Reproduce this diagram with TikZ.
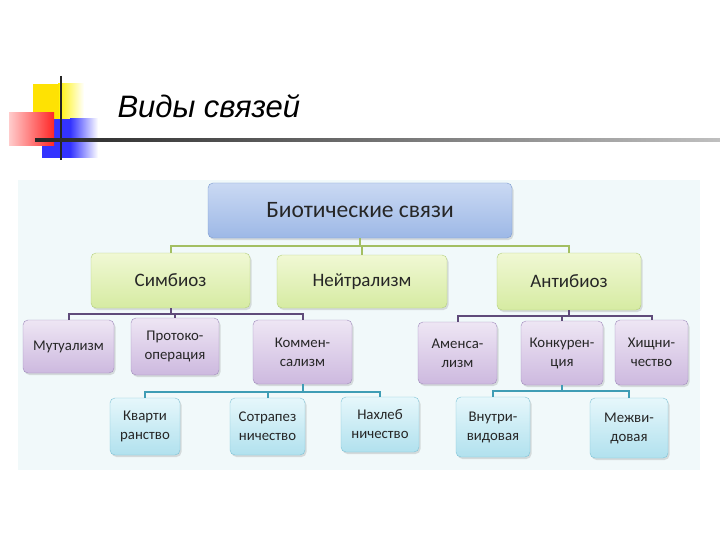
\documentclass[tikz,border=0pt]{standalone}
\usepackage{fontspec}
\setmainfont{Carlito}
\newfontfamily\titlefont{Liberation Sans}
\usetikzlibrary{shadows,calc}
\definecolor{bgc}{HTML}{F1F9FA}
\definecolor{blueT}{HTML}{CAD9F3}
\definecolor{blueB}{HTML}{9DB8E6}
\definecolor{blueD}{HTML}{7C9BD0}
\definecolor{grnT}{HTML}{F0F8D4}
\definecolor{grnB}{HTML}{D6EBA2}
\definecolor{grnD}{HTML}{B3CE7C}
\definecolor{purT}{HTML}{EEE6F4}
\definecolor{purB}{HTML}{CDB9DF}
\definecolor{purD}{HTML}{A08BBC}
\definecolor{cyaT}{HTML}{E6F7FB}
\definecolor{cyaB}{HTML}{B1E1EE}
\definecolor{cyaD}{HTML}{7EC3D6}
\definecolor{lnG}{HTML}{A3BF62}
\definecolor{lnP}{HTML}{5F4B7A}
\definecolor{lnC}{HTML}{3F9DB5}
\tikzset{
  bx/.style={rounded corners=5pt, align=center, inner sep=0pt, text=black!85,
    drop shadow={shadow xshift=1.5pt, shadow yshift=-2pt, opacity=0.25}},
  bluebox/.style={bx, draw=blueD, top color=blueT, bottom color=blueB, font=\fontsize{23.5}{26}\selectfont},
  grnbox/.style={bx, draw=grnD, top color=grnT, bottom color=grnB, font=\fontsize{19}{21}\selectfont},
  purbox/.style={bx, draw=purD, top color=purT, bottom color=purB, font=\fontsize{14.8}{19}\selectfont},
  cyabox/.style={bx, draw=cyaD, top color=cyaT, bottom color=cyaB, font=\fontsize{14.8}{19}\selectfont},
  gline/.style={draw=lnG, line width=2pt},
  pline/.style={draw=lnP, line width=2pt},
  cline/.style={draw=lnC, line width=2pt},
}
\begin{document}
\begin{tikzpicture}[x=1pt,y=-1pt]
\useasboundingbox (0,0) rectangle (720,540);
\fill[white] (0,0) rectangle (720,540);
% title decoration
\shade[left color=yellow!90!orange, right color=white] (58,84) rectangle (84,126);
\fill[yellow!85!orange] (33,84) rectangle (59,126);
\shade[left color=blue!80, right color=white] (70,119) rectangle (98,158);
\fill[blue!80] (42,119) rectangle (71,158);
\shade[left color=red!20, right color=red!85] (9,113) rectangle (54,146);
\draw[line width=2pt, black!85] (61,76) -- (61,160);
\shade[left color=black!85, right color=black!25] (35,138.8) rectangle (720,141.2);
\node[anchor=west, font=\titlefont\itshape\fontsize{31}{33}\selectfont] (title) at (114,106) {Виды связей};
% background panel
\fill[bgc] (18,180) rectangle (700,470);
% nodes
\node[bluebox, minimum width=304pt, minimum height=55pt] (top) at (360,210.5) {Биотические связи};
\node[grnbox, minimum width=159pt, minimum height=55pt] (sym) at (170.5,280.5) {Симбиоз};
\node[grnbox, minimum width=170pt, minimum height=53pt] (neu) at (362,281.5) {Нейтрализм};
\node[grnbox, minimum width=144pt, minimum height=57pt] (ant) at (569,281.5) {Антибиоз};
\node[purbox, minimum width=91pt, minimum height=53pt] (mut) at (68.5,346.5) {Мутуализм};
\node[purbox, minimum width=88pt, minimum height=57pt] (pro) at (175,346.5) {Протоко-\\операция};
\node[purbox, minimum width=99pt, minimum height=64pt] (kom) at (302.5,352) {Коммен-\\сализм};
\node[purbox, minimum width=79pt, minimum height=62pt] (ame) at (457.5,353) {Аменса-\\лизм};
\node[purbox, minimum width=82pt, minimum height=64pt] (kon) at (562,353) {Конкурен-\\ция};
\node[purbox, minimum width=73pt, minimum height=65pt] (hish) at (651.5,352.5) {Хищни-\\чество};
\node[cyabox, minimum width=70pt, minimum height=57pt] (kva) at (145,426.5) {Кварти\\ранство};
\node[cyabox, minimum width=75pt, minimum height=57pt] (sot) at (267.5,426.5) {Сотрапез\\ничество};
\node[cyabox, minimum width=78pt, minimum height=55pt] (nah) at (380,424.5) {Нахлеб\\ничество};
\node[cyabox, minimum width=74pt, minimum height=60pt] (vnu) at (493,427) {Внутри-\\видовая};
\node[cyabox, minimum width=78pt, minimum height=60pt] (mej) at (629,428) {Межви-\\довая};
% bus coordinates
\coordinate (b1) at (0,246);
\coordinate (b2) at (0,313.5);
\coordinate (b3) at (0,315.5);
\coordinate (b4) at (0,391.5);
\coordinate (b5) at (0,390.5);
% connectors
\path[gline] (top.south) -- (top.south |- b1) -| (sym.north);
\path[gline] (top.south) -- (top.south |- b1) -| (ant.north);
\path[gline] (neu.north |- b1) -- (neu.north);
\path[pline] (sym.south) -- (sym.south |- b2) -| (mut.north);
\path[pline] (sym.south |- b2) -| (pro.north);
\path[pline] (sym.south |- b2) -| (kom.north);
\path[pline] (ant.south) -- (ant.south |- b3) -| (ame.north);
\path[pline] (ant.south |- b3) -| (kon.north);
\path[pline] (ant.south |- b3) -| (hish.north);
\path[cline] (kom.south) -- (kom.south |- b4) -| (kva.north);
\path[cline] (kom.south |- b4) -| (sot.north);
\path[cline] (kom.south |- b4) -| (nah.north);
\path[cline] (kon.south) -- (kon.south |- b5) -| (vnu.north);
\path[cline] (kon.south |- b5) -| (mej.north);
\end{tikzpicture}
\end{document}
